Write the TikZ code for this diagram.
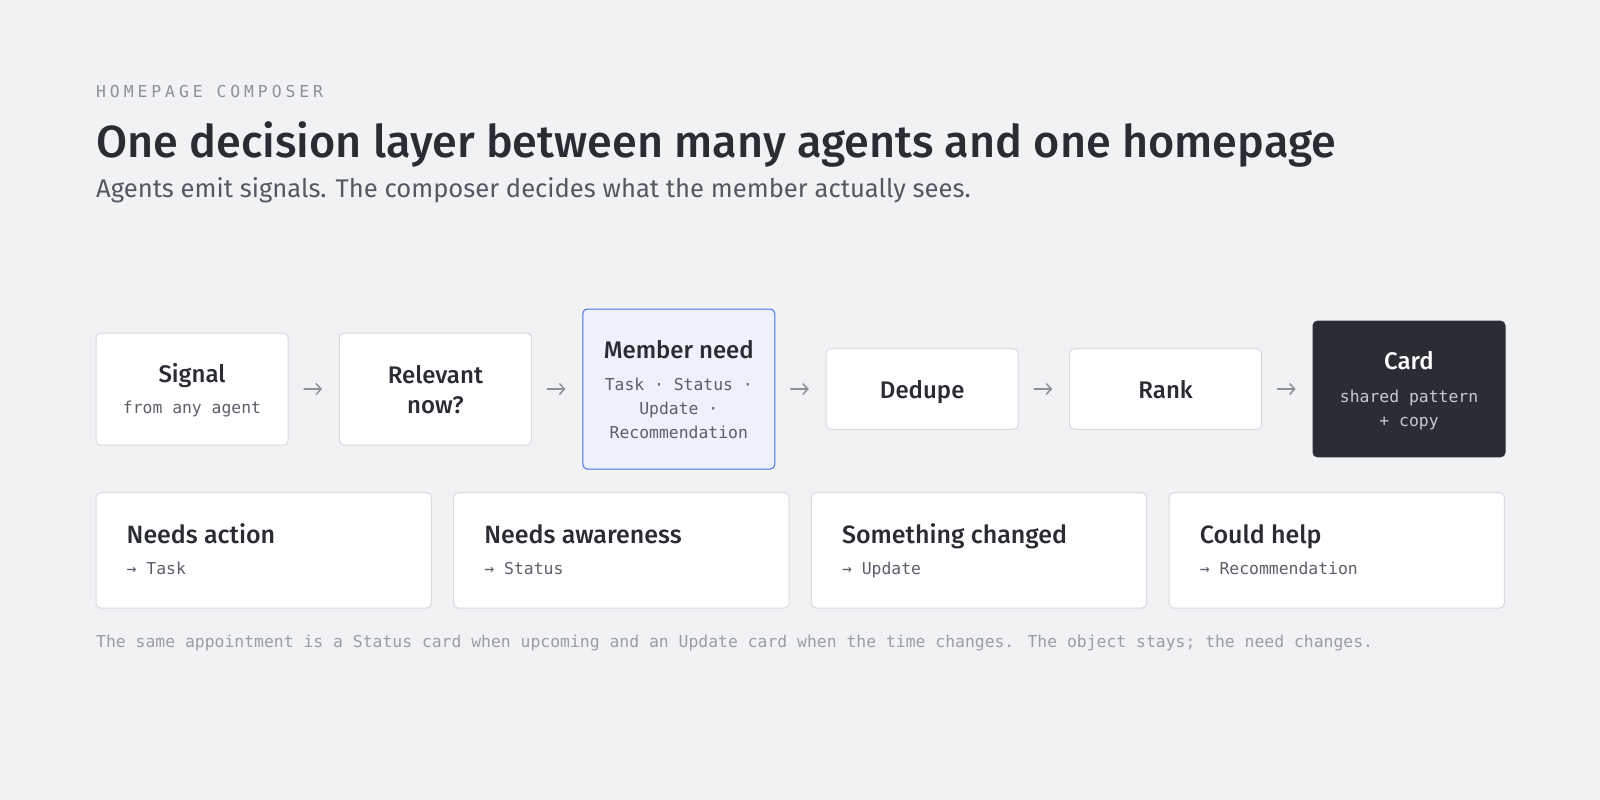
\documentclass[tikz,border=0pt]{standalone}
\usepackage{fontspec}
\setmainfont{Fira Sans}
\newfontfamily\headfont{Fira Sans Medium}
\newfontfamily\monofont{DejaVu Sans Mono}
\usetikzlibrary{arrows.meta}
\definecolor{bgc}{HTML}{F1F2F4}
\definecolor{boxline}{HTML}{D8DAE0}
\definecolor{ink}{HTML}{2A2C33}
\definecolor{labelc}{HTML}{8E9098}
\definecolor{subc}{HTML}{555862}
\definecolor{monoc}{HTML}{5C5F68}
\definecolor{footc}{HTML}{9B9DA4}
\definecolor{bluefill}{HTML}{EDF1FC}
\definecolor{blueline}{HTML}{4A6FE3}
\definecolor{darkfill}{HTML}{2B2D34}
\definecolor{darksub}{HTML}{C8CAD0}
\definecolor{arrc}{HTML}{8E9098}
\tikzset{
  box/.style={draw=boxline, fill=white, rounded corners=4.5pt, line width=1pt, inner sep=0pt, outer sep=0pt},
  stepbox/.style={box, minimum width=192pt},
  needbox/.style={box, minimum width=335.3pt, minimum height=115.3pt},
  ttl/.style={font=\headfont\fontsize{24}{29}\selectfont, text=ink, inner sep=0pt, anchor=base},
  needttl/.style={font=\headfont\fontsize{25}{30}\selectfont, text=ink, inner sep=0pt, anchor=base west},
  mono/.style={font=\monofont\fontsize{16.4}{20}\selectfont, text=monoc, inner sep=0pt, anchor=mid},
  arr/.style={draw=arrc, line width=1.5pt, line cap=round, -{Straight Barb[length=5pt,width=11pt]}},
}
\begin{document}
\begin{tikzpicture}[x=1pt,y=-1pt]
\fill[bgc] (0,0) rectangle (1600,800);
\useasboundingbox (0,0) rectangle (1600,800);

% header
\node[anchor=west, inner sep=0pt, text=labelc, font=\monofont\fontsize{16.4}{20}\selectfont\addfontfeature{LetterSpace=24}] (label) at (96,92) {HOMEPAGE COMPOSER};
\node[anchor=base west, inner sep=0pt, text=ink, font=\headfont\fontsize{45}{54}\selectfont] (title) at (96,157) {One decision layer between many agents and one homepage};
\node[anchor=base west, inner sep=0pt, text=subc, font=\fontsize{25.6}{30}\selectfont] (subtitle) at (96,197) {Agents emit signals. The composer decides what the member actually sees.};

% row 1 boxes
\node[stepbox, minimum height=112pt] (signal) at (192,389) {};
\node[stepbox, minimum height=112pt] (relevant) at (435.4,389) {};
\node[stepbox, minimum height=160pt, fill=bluefill, draw=blueline] (member) at (678.8,389) {};
\node[stepbox, minimum height=80.6pt] (dedupe) at (922.2,389) {};
\node[stepbox, minimum height=80.6pt] (rank) at (1165.6,389) {};
\node[stepbox, minimum height=135.7pt, fill=darkfill, draw=darkfill] (card) at (1409,389) {};

% row 1 texts
\node[ttl] (signalT) at (192,382) {Signal};
\node[mono] (signalS) at (192,411) {from any agent};
\node[ttl] (relT1) at (435.4,383) {Relevant};
\node[ttl] (relT2) at (435.4,413) {now?};
\node[ttl] (memT) at (678.8,358.5) {Member need};
\node[mono] (memS1) at (678.8,388) {Task · Status ·};
\node[mono] (memS2) at (678.8,412) {Update ·};
\node[mono] (memS3) at (678.8,436) {Recommendation};
\node[ttl] (dedT) at (922.2,398) {Dedupe};
\node[ttl] (rankT) at (1165.6,398) {Rank};
\node[ttl, text=white] (cardT) at (1409,369.5) {Card};
\node[mono, text=darksub] (cardS1) at (1409,400) {shared pattern};
\node[mono, text=darksub] (cardS2) at (1409,424) {+ copy};

% arrows
\draw[arr] ([xshift=16pt]signal.east) -- ([xshift=-17.4pt]relevant.west);
\draw[arr] ([xshift=16pt]relevant.east) -- ([xshift=-17.4pt]member.west);
\draw[arr] ([xshift=16pt]member.east) -- ([xshift=-17.4pt]dedupe.west);
\draw[arr] ([xshift=16pt]dedupe.east) -- ([xshift=-17.4pt]rank.west);
\draw[arr] ([xshift=16pt]rank.east) -- ([xshift=-17.4pt]card.west);

% row 2
\node[needbox, anchor=north west] (n1) at (96,492.7) {};
\node[needbox, anchor=north west] (n2) at (453.7,492.7) {};
\node[needbox, anchor=north west] (n3) at (811.4,492.7) {};
\node[needbox, anchor=north west] (n4) at (1169.1,492.7) {};
\node[needttl] (n1T) at (126.5,543) {Needs action};
\node[mono, anchor=mid west] (n1S) at (126.5,572) {→ Task};
\node[needttl] (n2T) at (484.2,543) {Needs awareness};
\node[mono, anchor=mid west] (n2S) at (484.2,572) {→ Status};
\node[needttl] (n3T) at (841.9,543) {Something changed};
\node[mono, anchor=mid west] (n3S) at (841.9,572) {→ Update};
\node[needttl] (n4T) at (1199.6,543) {Could help};
\node[mono, anchor=mid west] (n4S) at (1199.6,572) {→ Recommendation};

% footnote
\node[mono, anchor=mid west, text=footc] (foot) at (96,645) {The same appointment is a Status card when upcoming and an Update card when the time changes. The object stays; the need changes.};
\end{tikzpicture}
\end{document}
